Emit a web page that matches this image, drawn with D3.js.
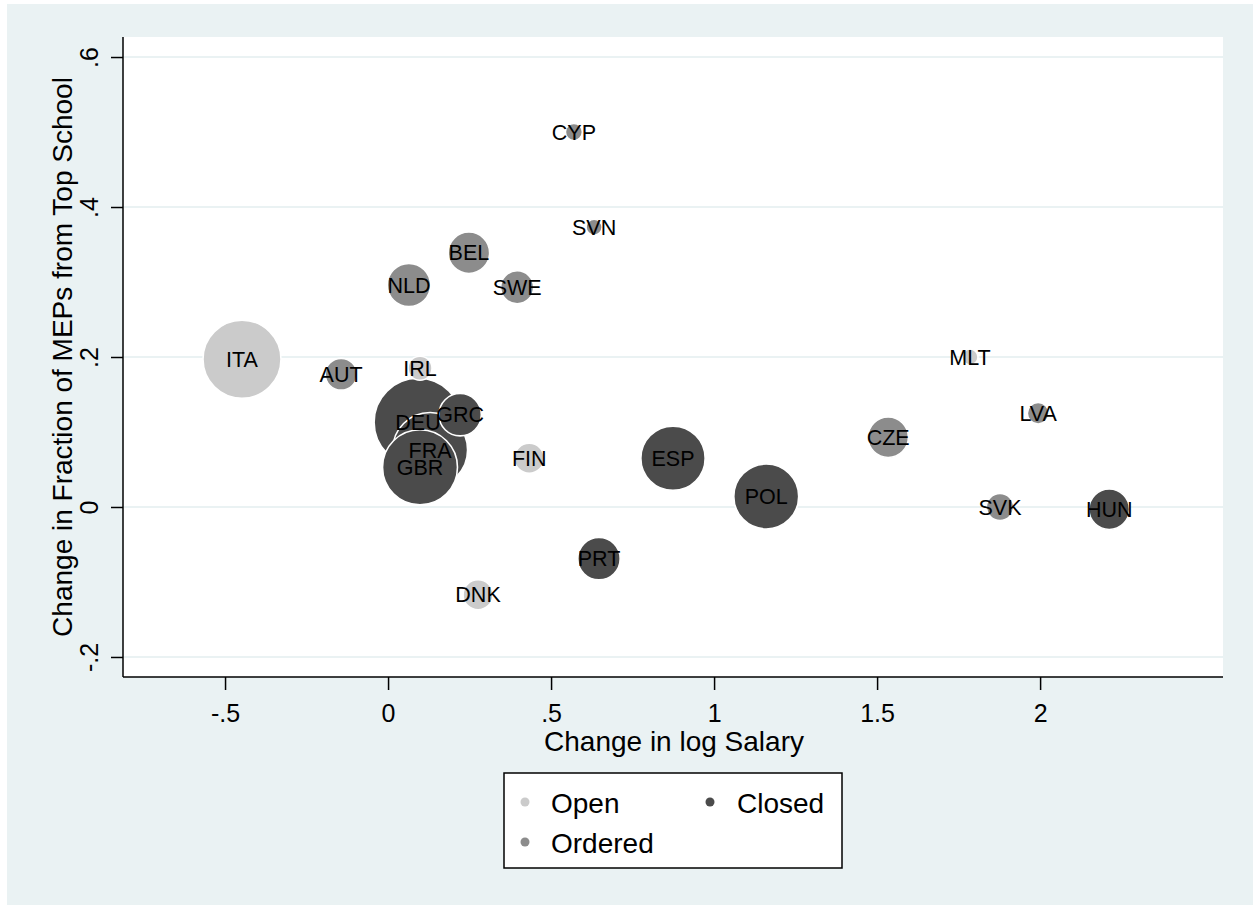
<!DOCTYPE html>
<html>
<head>
<meta charset="utf-8">
<script src="https://cdn.jsdelivr.net/npm/d3@7"></script>
<style>
  html, body { margin: 0; padding: 0; background: #ffffff; }
  svg { display: block; font-family: "Liberation Sans", Arial, sans-serif; }
</style>
</head>
<body>
<div id="chart"></div>
<script>
// ---- Data ----
const countries = ["DEU","FRA","GRC","GBR","ITA","AUT","IRL","NLD","BEL","SWE","CYP","SVN","FIN","DNK","ESP","POL","PRT","CZE","MLT","LVA","SVK","HUN"];
const salaryChange = [0.092,0.129,0.221,0.098,-0.448,-0.144,0.098,0.064,0.248,0.396,0.570,0.632,0.433,0.276,0.874,1.160,0.647,1.534,1.785,1.994,1.877,2.212];
const fractionChange = [0.113,0.076,0.123,0.053,0.197,0.177,0.185,0.296,0.339,0.293,0.500,0.373,0.065,-0.117,0.065,0.014,-0.069,0.093,0.200,0.125,0.000,-0.003];
const regime = ["Closed","Closed","Closed","Closed","Open","Ordered","Open","Ordered","Ordered","Ordered","Ordered","Ordered","Open","Open","Closed","Closed","Closed","Ordered","Open","Ordered","Ordered","Closed"];
const weight = [99,72,23,72,78,13,7.4,24,22,14,3.7,3.3,11.5,11.5,53,54,23,21,3.3,6,9.5,21];
const xTicks = [-0.5,0,0.5,1,1.5,2];
const yTicks = [-0.2,0,0.2,0.4,0.6];
const legendItems = ["Open","Closed","Ordered"];

const data = countries.map((c,i)=>({name:c,x:salaryChange[i],y:fractionChange[i],type:regime[i],w:weight[i]}));

const W = 1253, H = 909;
const plot = {left:123, right:1223, top:37, bottom:677};

const svg = d3.select("#chart").append("svg").attr("width",W).attr("height",H);

// outer background
svg.append("rect").attr("x",7).attr("y",4).attr("width",W-7).attr("height",901).attr("fill","#eaf2f3");
// plot area
svg.append("rect").attr("x",plot.left).attr("y",plot.top).attr("width",plot.right-plot.left).attr("height",plot.bottom-plot.top).attr("fill","#ffffff");

const x = d3.scaleLinear().domain([-0.813,2.561]).range([plot.left,plot.right]);
const y = d3.scaleLinear().domain([-0.2267,0.6267]).range([plot.bottom,plot.top]);
const r = d3.scaleSqrt().domain([0,78]).range([0,39]);
const color = d3.scaleOrdinal().domain(["Open","Ordered","Closed"]).range(["#cbcbcb","#8c8c8c","#4b4b4b"]);

// gridlines
svg.append("g").selectAll("line").data(yTicks).join("line")
  .attr("x1",plot.left).attr("x2",plot.right)
  .attr("y1",d=>y(d)).attr("y2",d=>y(d))
  .attr("stroke","#eaf2f3").attr("stroke-width",2.2);

// bubbles
svg.append("g").selectAll("circle").data(data).join("circle")
  .attr("cx",d=>x(d.x)).attr("cy",d=>y(d.y)).attr("r",d=>r(d.w))
  .attr("fill",d=>color(d.type)).attr("stroke","#ffffff").attr("stroke-width",1.6);

// labels
svg.append("g").selectAll("text").data(data).join("text")
  .attr("x",d=>x(d.x)).attr("y",d=>y(d.y)).attr("dy","0.36em")
  .attr("text-anchor","middle").attr("font-size",21.5).attr("fill","#000")
  .text(d=>d.name);

// axes
const fmt = d => String(d).replace(/^(-?)0\./,"$1.");
const xAxis = svg.append("g").attr("transform",`translate(0,${plot.bottom})`)
  .call(d3.axisBottom(x).tickValues(xTicks).tickSize(13).tickPadding(0).tickFormat(fmt));
xAxis.select(".domain").attr("d",`M${plot.left},0H${plot.right}`).attr("stroke","#000").attr("stroke-width",1.5);
xAxis.selectAll(".tick line").attr("stroke","#000").attr("stroke-width",1.5);
xAxis.selectAll(".tick text").attr("font-size",25).attr("font-family","Liberation Sans, Arial, sans-serif").attr("fill","#000")
  .attr("dy",null).attr("y",45);

const yAxis = svg.append("g").attr("transform",`translate(${plot.left},0)`)
  .call(d3.axisLeft(y).tickValues(yTicks).tickSize(12).tickPadding(0).tickFormat(fmt));
yAxis.select(".domain").attr("d",`M0,${plot.bottom}V${plot.top}`).attr("stroke","#000").attr("stroke-width",1.5);
yAxis.selectAll(".tick line").attr("stroke","#000").attr("stroke-width",1.5);
yAxis.selectAll(".tick text")
  .attr("font-size",25).attr("font-family","Liberation Sans, Arial, sans-serif").attr("fill","#000")
  .attr("x",null).attr("dy",null).attr("y",0)
  .attr("text-anchor","middle")
  .attr("transform","translate(-25,0) rotate(-90)");

// axis titles
svg.append("text").attr("x",674).attr("y",751)
  .attr("text-anchor","middle").attr("font-size",28).attr("fill","#000").text("Change in log Salary");
svg.append("text").attr("transform",`translate(72,357) rotate(-90)`)
  .attr("text-anchor","middle").attr("font-size",28).attr("fill","#000")
  .text("Change in Fraction of MEPs from Top School");

// legend
const lg = svg.append("g");
lg.append("rect").attr("x",504).attr("y",773).attr("width",338).attr("height",95)
  .attr("fill","#fff").attr("stroke","#000").attr("stroke-width",1.5);
const lpos = [{mx:525,my:802},{mx:710,my:802},{mx:525,my:842}];
legendItems.forEach((t,i)=>{
  lg.append("circle").attr("cx",lpos[i].mx).attr("cy",lpos[i].my).attr("r",4.5).attr("fill",color(t));
  lg.append("text").attr("x",lpos[i].mx+(i===1?27:26)).attr("y",lpos[i].my+11)
    .attr("font-size",28).attr("fill","#000").text(t);
});
</script>
</body>
</html>
